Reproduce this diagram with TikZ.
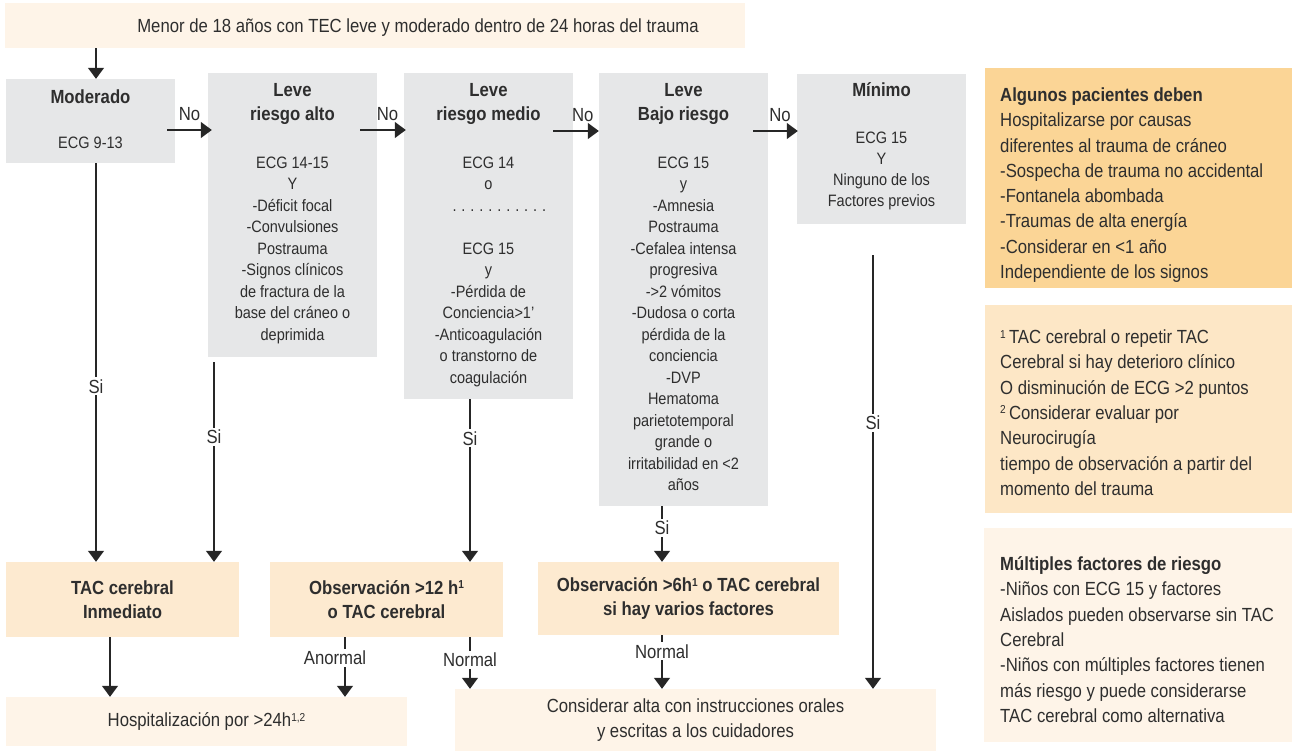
\documentclass[tikz,border=0pt]{standalone}
\usepackage{fontspec}
\setmainfont[FakeStretch=0.88]{Liberation Sans}
\usetikzlibrary{arrows.meta,calc}

\definecolor{ink}{HTML}{2E2E2E}
\definecolor{linec}{HTML}{262626}
\definecolor{grayfill}{HTML}{E6E7E8}
\definecolor{cream}{HTML}{FEF4E8}
\definecolor{peach}{HTML}{FDEAD0}
\definecolor{orangefill}{HTML}{FBD596}
\definecolor{peachlight}{HTML}{FDE7C6}

% type sizes (1pt = 1 unit of the drawing grid)
\newcommand\bigtxt{\fontsize{19}{25.3}\selectfont}
\newcommand\smalltxt{\fontsize{16.5}{21.5}\selectfont\mdseries}
\newcommand\titletxt{\fontsize{19}{24}\selectfont\bfseries}
% small raised note marks
\newcommand\notemark[1]{\raisebox{5.5pt}{\fontsize{11.5}{11.5}\selectfont #1}}

\tikzset{
  gbox/.style={rectangle, fill=grayfill, inner sep=0pt},
  cbox/.style={rectangle, fill=cream, inner sep=0pt, text=ink, align=center, font=\bigtxt},
  pbox/.style={rectangle, fill=peach, inner sep=0pt, text=ink, align=center, font=\titletxt},
  gtext/.style={anchor=base, inner sep=0pt, text=ink},
  rtext/.style={anchor=base west, inner sep=0pt, text=ink},
  arr/.style={draw=linec, line width=1.3pt, -{Triangle[length=11pt,width=16pt]}},
  lbl/.style={fill=white, inner sep=2pt, text=ink, font=\bigtxt},
  nolbl/.style={above=8pt, inner sep=1pt, text=ink, font=\bigtxt},
}

\begin{document}
\begin{tikzpicture}[x=1pt,y=-1pt]
\useasboundingbox (0,0) rectangle (1292,754);

% ---------- heading bar ----------
\node[rectangle, fill=cream, inner sep=0pt, minimum width=740pt, minimum height=45pt] (top) at (375,25.5) {};
\node[gtext, font=\bigtxt] (topT) at (418,32.5) {Menor de 18 años con TEC leve y moderado dentro de 24 horas del trauma};

% ---------- severity columns ----------
\node[gbox, minimum width=169pt, minimum height=84pt]  (mod)   at (90.5,121) {};
\node[gbox, minimum width=169pt, minimum height=284pt] (alto)  at (292.5,215) {};
\node[gbox, minimum width=169pt, minimum height=326pt] (medio) at (488.5,236) {};
\node[gbox, minimum width=169pt, minimum height=433pt] (bajo)  at (683.5,289.5) {};
\node[gbox, minimum width=169pt, minimum height=150pt] (min)   at (881.5,149) {};

\node[gtext] (modT) at (90.5,103.5) {\parbox[t]{169pt}{\centering
  \titletxt Moderado\par\vspace{23.5pt}
  \smalltxt ECG 9-13}};

\node[gtext] (altoT) at (292.5,96.5) {\parbox[t]{169pt}{\centering
  \titletxt Leve\\riesgo alto\par\vspace{26.5pt}
  \smalltxt ECG 14-15\\Y\\-Déficit focal\\-Convulsiones\\Postrauma\\-Signos clínicos\\de fractura de la\\base del cráneo o\\deprimida}};

\node[gtext] (medioT) at (488.5,96.5) {\parbox[t]{169pt}{\centering
  \titletxt Leve\\riesgo medio\par\vspace{26.5pt}
  \smalltxt ECG 14\\o\\\makebox[72pt][s]{. . . . . . . . . . .}\\\mbox{}\\ECG 15\\y\\-Pérdida de\\Conciencia>1’\\-Anticoagulación\\o transtorno de\\coagulación}};

\node[gtext] (bajoT) at (683.5,96.5) {\parbox[t]{169pt}{\centering
  \titletxt Leve\\Bajo riesgo\par\vspace{26.5pt}
  \smalltxt ECG 15\\y\\-Amnesia\\Postrauma\\-Cefalea intensa\\progresiva\\->2 vómitos\\-Dudosa o corta\\pérdida de la\\conciencia\\-DVP\\Hematoma\\parietotemporal\\grande o\\irritabilidad en <2\\años}};

\node[gtext] (minT) at (881.5,96.5) {\parbox[t]{169pt}{\centering
  \titletxt Mínimo\par\vspace{25.5pt}
  \fontsize{16.5}{21.2}\selectfont\mdseries ECG 15\\Y\\Ninguno de los\\Factores previos}};

% ---------- actions ----------
\node[pbox, minimum width=233pt, minimum height=75pt] (tacI)  at (122.5,599.5) {TAC cerebral\\Inmediato};
\node[pbox, minimum width=233pt, minimum height=75pt] (obs12) at (386.5,599.5) {Observación >12 h\notemark{1}\\o TAC cerebral};
\node[pbox, minimum width=301pt, minimum height=73pt] (obs6)  at (688.5,598.5) {Observación >6h\notemark{1} o TAC cerebral\\si hay varios factores};

\node[cbox, minimum width=401pt, minimum height=49pt] (hosp) at (206.5,721.5) {Hospitalización por >24h\notemark{1,2}};
\node[cbox, minimum width=481pt, minimum height=62pt] (cons) at (695.5,720) {Considerar alta con instrucciones orales\\y escritas a los cuidadores};

% ---------- side notes ----------
\node[rectangle, fill=orangefill, inner sep=0pt, minimum width=307pt, minimum height=220pt] (r1) at (1138.5,178) {};
\node[rectangle, fill=peachlight, inner sep=0pt, minimum width=307pt, minimum height=208pt] (r2) at (1138.5,409) {};
\node[rectangle, fill=cream, inner sep=0pt, minimum width=308pt, minimum height=214pt] (r3) at (1138,635) {};

\node[rtext] (r1T) at (1000,101.5) {\parbox[t]{300pt}{\raggedright\bigtxt
  \textbf{Algunos pacientes deben}\\Hospitalizarse por causas\\diferentes al trauma de cráneo\\-Sospecha de trauma no accidental\\-Fontanela abombada\\-Traumas de alta energía\\-Considerar en <1 año\\Independiente de los signos}};

\node[rtext] (r2T) at (1000,343.5) {\parbox[t]{300pt}{\raggedright\bigtxt
  \notemark{1}\thinspace TAC cerebral o repetir TAC\\Cerebral si hay deterioro clínico\\O disminución de ECG >2 puntos\\\notemark{2}\thinspace Considerar evaluar por\\Neurocirugía\\tiempo de observación a partir del\\momento del trauma}};

\node[rtext] (r3T) at (1000,570.5) {\parbox[t]{300pt}{\raggedright\bigtxt
  \textbf{Múltiples factores de riesgo}\\-Niños con ECG 15 y factores\\Aislados pueden observarse sin TAC\\Cerebral\\-Niños con múltiples factores tienen\\más riesgo y puede considerarse\\TAC cerebral como alternativa}};

% ---------- column guides ----------
\coordinate (xa) at (96,0);
\coordinate (xb) at (214,0);
\coordinate (xc) at (470,0);
\coordinate (xd) at (662,0);
\coordinate (xe) at (873,0);
\coordinate (xf) at (110,0);
\coordinate (xg) at (345,0);
\coordinate (yn) at (0,130);

% ---------- connectors ----------
\draw[arr] (top.south -| xa) -- (mod.north -| xa);

\draw[arr] ($(mod.east |- yn)+(-8,0)$) -- node[nolbl, pos=0.5]{No} ($(alto.west |- yn)+(4,0)$);
\draw[arr] ($(alto.east |- yn)+(-17,0)$) -- node[nolbl, pos=0.6]{No} ($(medio.west |- yn)+(2,0)$);
\draw[arr] ($(medio.east |- yn)+(-20,1)$) -- node[nolbl, pos=0.65]{No} ($(bajo.west |- yn)+(0,1)$);
\draw[arr] ($(bajo.east |- yn)+(-15,1)$) -- node[nolbl, pos=0.6]{No} ($(min.west |- yn)+(1,1)$);

\draw[arr] (mod.south -| xa) -- node[lbl, pos=0.56]{Si} (tacI.north -| xa);
\draw[arr, shorten <=5pt] (alto.south -| xb) -- node[lbl, pos=0.39]{Si} (tacI.north -| xb);
\draw[arr] (medio.south -| xc) -- node[lbl, pos=0.24]{Si} (obs12.north -| xc);
\draw[arr] (bajo.south -| xd) -- node[lbl, pos=0.39]{Si} (obs6.north -| xd);
\draw[arr, shorten <=31pt] (min.south -| xe) -- node[lbl, pos=0.428]{Si} (cons.north -| xe);

\draw[arr] (tacI.south -| xf) -- (hosp.north -| xf);
\draw[arr] (obs12.south -| xg) -- node[lbl, pos=0.35, xshift=-10pt]{Anormal} (hosp.north -| xg);
\draw[arr] (obs12.south -| xc) -- node[lbl, pos=0.44]{Normal} (cons.north -| xc);
\draw[arr] (obs6.south -| xd) -- node[lbl, pos=0.3]{Normal} (cons.north -| xd);
\end{tikzpicture}
\end{document}
